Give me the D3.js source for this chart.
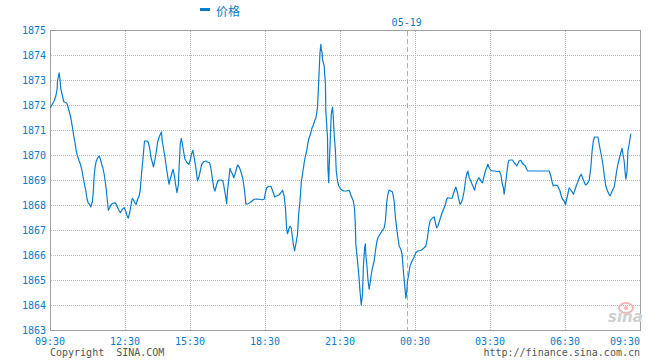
<!DOCTYPE html>
<html>
<head>
<meta charset="utf-8">
<script src="https://cdn.jsdelivr.net/npm/d3@7/dist/d3.min.js"></script>
<style>
  html, body { margin: 0; padding: 0; background: #fff; }
  svg { display: block; }
</style>
</head>
<body>
<svg id="chart" width="660" height="360"></svg>
<script>
// ---- data (minutes after 05-18 09:30, price) ----
const seriesName = "价格";
const dayLabel = "05-19";
const dayBreakMinute = 880;
const xTickMinutes = [0, 180, 360, 540, 720, 900, 1080, 1260, 1440];
const xTickLabels = ["09:30", "12:30", "15:30", "18:30", "21:30", "00:30", "03:30", "06:30", "09:30"];
const yTicks = [1863, 1864, 1865, 1866, 1867, 1868, 1869, 1870, 1871, 1872, 1873, 1874, 1875];

const minutes = [
  1, 6, 10, 14, 17, 18, 22, 24, 26, 30, 33, 40, 42, 47, 50, 54, 57, 60, 63, 66,
  70, 73, 76, 79, 82, 86, 89, 92, 95, 98, 102, 104, 106, 108, 111, 114, 118, 121, 124, 127,
  130, 134, 137, 140, 143, 146, 151, 156, 159, 164, 169, 174, 178, 182, 186, 189, 193, 197, 200, 204,
  208, 211, 215, 219, 222, 226, 230, 234, 241, 245, 248, 252, 256, 259, 263, 267, 270, 274, 278, 281,
  283, 287, 291, 294, 298, 302, 305, 309, 313, 317, 320, 324, 328, 329, 331, 333, 336, 339, 342, 346,
  352, 357, 361, 364, 367, 370, 374, 377, 378, 382, 385, 388, 393, 398, 402, 407, 410, 414, 417, 420,
  423, 426, 430, 434, 439, 442, 446, 448, 450, 454, 456, 458, 462, 465, 468, 471, 474, 478, 481, 484,
  487, 491, 494, 499, 504, 509, 514, 520, 526, 533, 538, 541, 544, 549, 554, 557, 560, 563, 568, 573,
  578, 582, 586, 589, 592, 594, 597, 600, 603, 606, 608, 611, 614, 618, 621, 624, 627, 630, 634, 637,
  640, 643, 646, 650, 653, 656, 659, 662, 666, 668, 670, 672, 674, 675, 677, 678, 682, 685, 686, 690,
  691, 693, 694, 697, 699, 702, 704, 706, 709, 711, 714, 717, 722, 728, 736, 742, 747, 752, 755, 757,
  758, 762, 765, 768, 771, 774, 776, 779, 781, 782, 785, 787, 790, 793, 795, 798, 802, 805, 808, 811,
  816, 821, 826, 829, 832, 835, 838, 842, 846, 850, 853, 856, 859, 862, 866, 869, 872, 875, 878, 880,
  882, 885, 888, 893, 898, 902, 907, 915, 922, 926, 930, 933, 936, 941, 946, 949, 952, 955, 960, 965,
  970, 973, 976, 979, 984, 989, 992, 995, 998, 1002, 1005, 1008, 1011, 1014, 1018, 1021, 1024, 1027, 1030, 1034,
  1037, 1040, 1043, 1046, 1050, 1053, 1056, 1059, 1062, 1066, 1069, 1072, 1075, 1078, 1082, 1086, 1093, 1098, 1102, 1106,
  1109, 1112, 1114, 1117, 1120, 1123, 1125, 1130, 1134, 1138, 1141, 1144, 1147, 1150, 1154, 1157, 1160, 1165, 1168, 1171,
  1222, 1226, 1229, 1232, 1237, 1242, 1245, 1248, 1251, 1254, 1258, 1261, 1264, 1267, 1270, 1274, 1277, 1280, 1283, 1286,
  1290, 1293, 1296, 1299, 1302, 1306, 1309, 1312, 1315, 1318, 1322, 1325, 1328, 1331, 1339, 1342, 1346, 1349, 1352, 1355,
  1358, 1362, 1365, 1368, 1371, 1374, 1378, 1381, 1384, 1387, 1390, 1394, 1397, 1399, 1402, 1404, 1406, 1409, 1411, 1414,
  1418
];
const prices = [
  1871.89, 1872.05, 1872.16, 1872.36, 1872.63, 1872.96, 1873.29, 1873.03, 1872.63, 1872.36, 1872.13, 1872.08, 1872.00, 1871.69, 1871.49, 1871.09, 1870.76, 1870.49, 1870.16, 1869.96,
  1869.76, 1869.63, 1869.43, 1869.16, 1868.89, 1868.56, 1868.23, 1868.07, 1868.03, 1867.92, 1868.16, 1868.56, 1869.16, 1869.49, 1869.76, 1869.87, 1869.96, 1869.83, 1869.63, 1869.49,
  1869.23, 1868.76, 1868.29, 1867.79, 1867.89, 1868.00, 1868.07, 1868.09, 1868.03, 1867.83, 1867.69, 1867.83, 1867.89, 1867.76, 1867.56, 1867.47, 1867.69, 1868.03, 1868.27, 1868.19,
  1868.07, 1868.03, 1868.23, 1868.36, 1868.56, 1869.29, 1869.89, 1870.56, 1870.56, 1870.49, 1870.29, 1869.89, 1869.69, 1869.52, 1869.83, 1870.16, 1870.49, 1870.69, 1870.83, 1870.92,
  1870.56, 1870.23, 1869.89, 1869.56, 1869.16, 1868.83, 1869.03, 1869.23, 1869.43, 1869.16, 1868.83, 1868.49, 1868.83, 1869.29, 1869.83, 1870.43, 1870.67, 1870.43, 1870.16, 1869.83,
  1869.69, 1869.63, 1869.83, 1870.05, 1870.19, 1869.89, 1869.49, 1869.09, 1868.96, 1869.16, 1869.39, 1869.63, 1869.73, 1869.76, 1869.72, 1869.69, 1869.49, 1869.03, 1868.69, 1868.56,
  1868.76, 1868.93, 1869.00, 1869.00, 1868.96, 1868.69, 1868.29, 1868.05, 1868.56, 1869.16, 1869.47, 1869.36, 1869.23, 1869.09, 1869.23, 1869.43, 1869.60, 1869.52, 1869.39, 1869.23,
  1869.03, 1868.56, 1868.03, 1868.05, 1868.09, 1868.16, 1868.23, 1868.24, 1868.23, 1868.21, 1868.23, 1868.49, 1868.69, 1868.75, 1868.75, 1868.63, 1868.49, 1868.32, 1868.36, 1868.40,
  1868.49, 1868.59, 1868.36, 1867.89, 1867.03, 1866.85, 1867.03, 1867.16, 1867.09, 1866.69, 1866.43, 1866.16, 1866.43, 1866.83, 1867.69, 1868.16, 1868.89, 1869.23, 1869.69, 1869.96,
  1870.16, 1870.49, 1870.69, 1870.89, 1871.09, 1871.20, 1871.36, 1871.47, 1871.89, 1872.63, 1873.36, 1874.09, 1874.43, 1874.23, 1874.09, 1873.83, 1873.56, 1872.83, 1871.76, 1870.69,
  1869.49, 1868.89, 1869.49, 1870.76, 1871.63, 1871.92, 1871.49, 1870.83, 1870.16, 1869.36, 1868.96, 1868.76, 1868.63, 1868.56, 1868.56, 1868.59, 1868.36, 1868.16, 1867.83, 1867.09,
  1866.43, 1865.76, 1865.23, 1864.56, 1864.00, 1864.43, 1865.49, 1866.29, 1866.45, 1866.03, 1865.49, 1865.03, 1864.63, 1864.96, 1865.23, 1865.49, 1865.76, 1866.16, 1866.49, 1866.69,
  1866.83, 1866.96, 1867.09, 1867.36, 1868.09, 1868.43, 1868.60, 1868.56, 1868.52, 1868.16, 1867.49, 1867.09, 1866.69, 1866.36, 1866.23, 1866.03, 1865.36, 1864.83, 1864.27, 1864.49,
  1864.96, 1865.23, 1865.56, 1865.76, 1865.92, 1866.09, 1866.16, 1866.19, 1866.29, 1866.36, 1866.69, 1867.09, 1867.36, 1867.47, 1867.52, 1867.29, 1867.09, 1867.16, 1867.43, 1867.69,
  1867.89, 1868.03, 1868.23, 1868.29, 1868.27, 1868.27, 1868.43, 1868.59, 1868.72, 1868.49, 1868.23, 1868.03, 1868.09, 1868.23, 1868.56, 1868.96, 1869.23, 1869.36, 1869.09, 1868.96,
  1868.83, 1868.72, 1868.59, 1868.83, 1868.99, 1869.09, 1869.03, 1868.93, 1868.89, 1869.16, 1869.36, 1869.49, 1869.63, 1869.49, 1869.39, 1869.36, 1869.36, 1869.33, 1869.36, 1869.23,
  1868.89, 1868.69, 1868.43, 1868.83, 1869.23, 1869.63, 1869.79, 1869.80, 1869.80, 1869.69, 1869.63, 1869.56, 1869.65, 1869.76, 1869.79, 1869.69, 1869.63, 1869.56, 1869.43, 1869.36,
  1869.36, 1869.16, 1868.93, 1868.76, 1868.80, 1868.77, 1868.67, 1868.56, 1868.36, 1868.23, 1868.16, 1868.00, 1868.23, 1868.45, 1868.69, 1868.60, 1868.53, 1868.43, 1868.56, 1868.72,
  1868.89, 1869.03, 1869.16, 1869.23, 1869.09, 1868.93, 1868.80, 1868.83, 1868.89, 1868.99, 1869.49, 1870.16, 1870.56, 1870.72, 1870.72, 1870.43, 1870.09, 1869.83, 1869.49, 1869.09,
  1868.76, 1868.56, 1868.45, 1868.36, 1868.47, 1868.59, 1868.72, 1869.03, 1869.36, 1869.63, 1869.83, 1870.09, 1870.27, 1870.03, 1869.76, 1869.36, 1869.03, 1869.36, 1870.16, 1870.43,
  1870.85
];

// ---- drawing ----
const svg = d3.select("#chart");
const blue = "#0a7ccc";
const gridColor = "#b8b8b8";
const frameColor = "#a0a0a0";
const mono = "'DejaVu Sans Mono', 'Liberation Mono', monospace";

const x = d3.scaleLinear()
  .domain(xTickMinutes)
  .range([50, 125, 190, 265, 340, 415, 490, 565, 640]);
const y = d3.scaleLinear().domain([1863, 1875]).range([330, 30]);

const data = minutes.map((m, i) => ({ m, p: prices[i] }));

// horizontal grid
svg.append("g")
  .selectAll("line")
  .data(yTicks.slice(1, -1))
  .join("line")
  .attr("x1", 51).attr("x2", 640)
  .attr("y1", d => Math.round(y(d)) + 0.5).attr("y2", d => Math.round(y(d)) + 0.5)
  .attr("stroke", gridColor).attr("stroke-dasharray", "1,1");

// vertical grid
svg.append("g")
  .selectAll("line")
  .data(xTickMinutes.slice(1, -1))
  .join("line")
  .attr("x1", d => Math.round(x(d)) + 0.5).attr("x2", d => Math.round(x(d)) + 0.5)
  .attr("y1", 31).attr("y2", 330)
  .attr("stroke", gridColor).attr("stroke-dasharray", "1,1");

// day break dashed line
svg.append("line")
  .attr("x1", Math.round(x(dayBreakMinute)) + 0.5).attr("x2", Math.round(x(dayBreakMinute)) + 0.5)
  .attr("y1", 31).attr("y2", 330)
  .attr("stroke", "#b0b0b0").attr("stroke-dasharray", "5,3");

svg.append("text")
  .attr("x", x(dayBreakMinute)).attr("y", 26)
  .attr("text-anchor", "middle")
  .attr("font-family", mono).attr("font-size", 10)
  .attr("fill", blue)
  .text(dayLabel);

// frame
svg.append("rect")
  .attr("x", 50.5).attr("y", 30.5).attr("width", 590).attr("height", 300)
  .attr("fill", "none").attr("stroke", frameColor);

// watermark
const wm = svg.append("g").attr("transform", "translate(608,322)");
wm.append("ellipse").attr("cx", 18).attr("cy", -14).attr("rx", 7).attr("ry", 5)
  .attr("fill", "none").attr("stroke", "#f4b4b4").attr("stroke-width", 2);
wm.append("circle").attr("cx", 18).attr("cy", -14).attr("r", 2).attr("fill", "#f4b4b4");
wm.append("text").attr("x", 0).attr("y", 0)
  .attr("font-family", "Verdana, 'DejaVu Sans', sans-serif")
  .attr("font-size", 15).attr("font-weight", "bold").attr("font-style", "italic")
  .attr("fill", "#cfcfcf").text("sina");

// price line
const line = d3.line().x(d => x(d.m)).y(d => y(d.p));
svg.append("path")
  .datum(data)
  .attr("d", line)
  .attr("fill", "none")
  .attr("stroke", blue)
  .attr("stroke-width", 1.2)
  .attr("stroke-linejoin", "round");

// y labels
svg.append("g")
  .selectAll("text")
  .data(yTicks)
  .join("text")
  .attr("x", 46).attr("y", d => y(d) + 4)
  .attr("text-anchor", "end")
  .attr("font-family", mono).attr("font-size", 10)
  .attr("fill", blue)
  .text(d => d);

// x labels
svg.append("g")
  .selectAll("text")
  .data(xTickMinutes)
  .join("text")
  .attr("x", d => x(d))
  .attr("y", 345)
  .attr("text-anchor", (d, i) => i === xTickMinutes.length - 1 ? "end" : "middle")
  .attr("font-family", mono).attr("font-size", 10)
  .attr("fill", blue)
  .text((d, i) => xTickLabels[i]);

// footer
svg.append("text").attr("x", 50).attr("y", 356)
  .attr("font-family", mono).attr("font-size", 10).attr("fill", "#555")
  .attr("xml:space", "preserve").style("white-space", "pre")
  .text("Copyright  SINA.COM");
svg.append("text").attr("x", 640).attr("y", 356).attr("text-anchor", "end")
  .attr("font-family", mono).attr("font-size", 10).attr("fill", "#555")
  .text("http://finance.sina.com.cn");

// legend
svg.append("rect").attr("x", 200).attr("y", 8).attr("width", 10).attr("height", 3).attr("fill", blue);
svg.append("text").attr("x", 216).attr("y", 16)
  .attr("font-family", "'Noto Sans CJK SC', sans-serif").attr("font-size", 12)
  .attr("fill", blue).text(seriesName);
</script>
</body>
</html>
